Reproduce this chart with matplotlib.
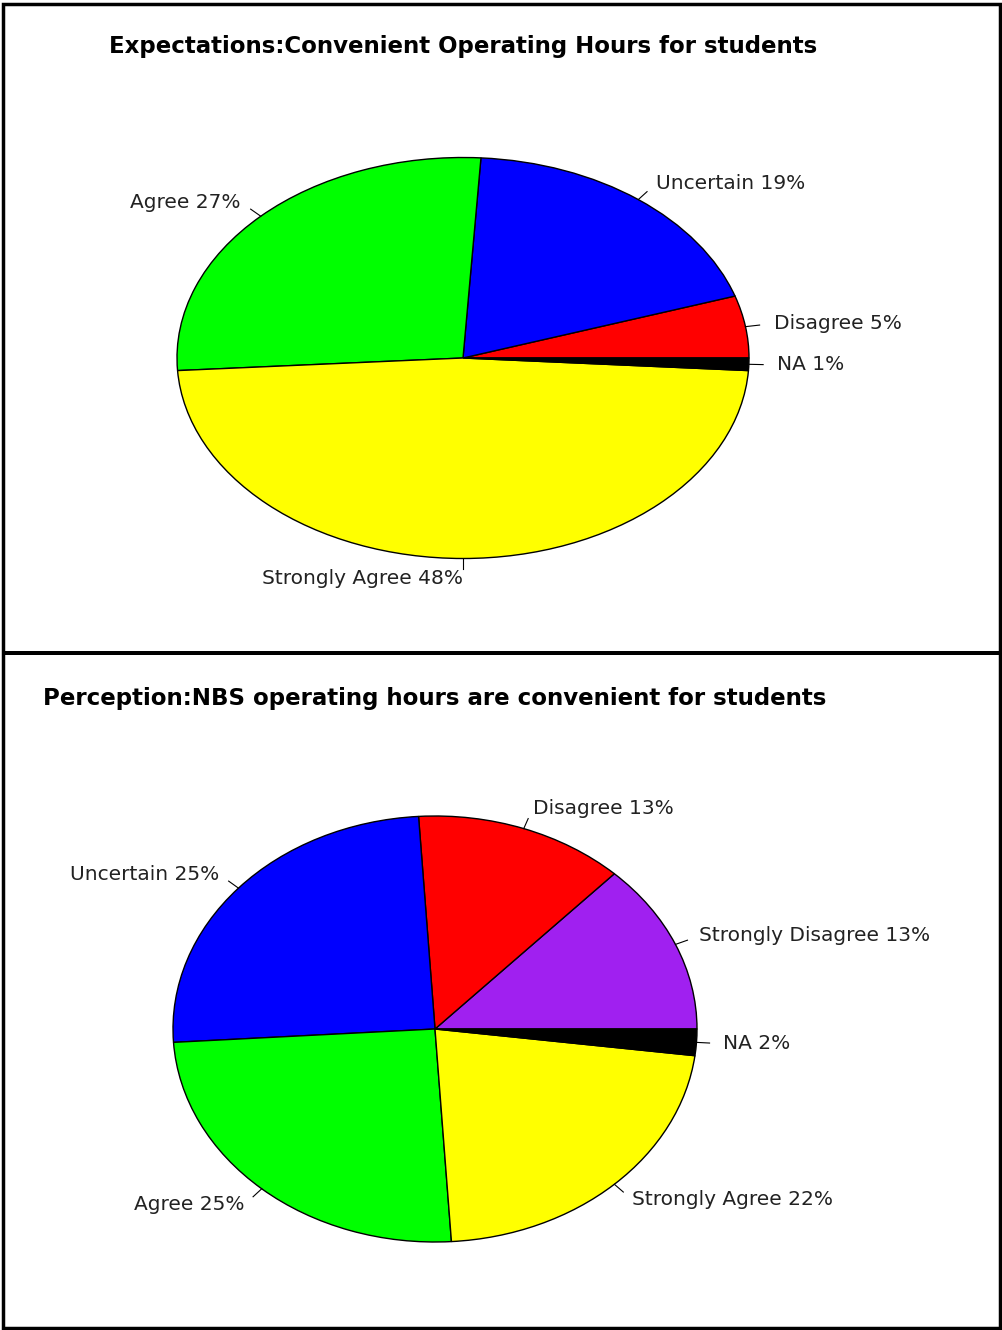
import numpy as np
import matplotlib.pyplot as plt
from matplotlib.patches import Rectangle

plt.rcParams['font.family'] = ['DejaVu Sans']

# survey answers, in drawing order (counter-clockwise from 3 o'clock)
exp_labels = ["Disagree", "Uncertain", "Agree", "Strongly Agree", "NA"]
exp_pct = [5, 19, 27, 48, 1]
exp_colors = ["#FF0000", "#0000FF", "#00FF00", "#FFFF00", "#000000"]

per_labels = ["Strongly Disagree", "Disagree", "Uncertain", "Agree",
              "Strongly Agree", "NA"]
per_pct = [13, 13, 25, 25, 22, 2]
per_colors = ["#A020F0", "#FF0000", "#0000FF", "#00FF00", "#FFFF00", "#000000"]

W, H = 1003, 1330
fig = plt.figure(figsize=(W / 100, H / 100), dpi=100)


def px_axes(cx, cy, rx, ry):
    # axes whose -1..1 box is the pie's bounding ellipse, given in pixels
    return fig.add_axes([(cx - rx) / W, 1 - (cy + ry) / H, 2 * rx / W, 2 * ry / H])


def r_pie(ax, values, labels, colors, title, title_y):
    ax.pie(values, colors=colors, startangle=0, counterclock=True,
           radius=1, wedgeprops=dict(edgecolor="black", linewidth=1))
    frac = np.cumsum(values) / np.sum(values)
    mids = 2 * np.pi * (frac - np.array(values) / np.sum(values) / 2)
    for mid, lab, v in zip(mids, labels, values):
        c, s = np.cos(mid), np.sin(mid)
        ax.plot([c, 1.05 * c], [s, 1.05 * s], color="black", lw=0.8, clip_on=False)
        ax.text(1.1 * c, 1.1 * s, f"{lab} {v}%", ha="left" if c > 0 else "right",
                va="center", fontsize=14.5, color="#222222")
    ax.set_xlim(-1, 1)
    ax.set_ylim(-1, 1)
    ax.set_aspect("auto")
    ax.axis("off")
    pos = ax.get_position()
    fig.text(pos.x0 + pos.width / 2, 1 - title_y / H, title, ha="center",
             va="center", fontsize=16.5, fontweight="bold")


ax1 = px_axes(463, 358, 286, 200.5)
r_pie(ax1, exp_pct, exp_labels, exp_colors,
      "Expectations:Convenient Operating Hours for students", 47)

ax2 = px_axes(435, 1029, 262, 213)
r_pie(ax2, per_pct, per_labels, per_colors,
      "Perception:NBS operating hours are convenient for students", 699)

# panel frames
fig.patches.append(Rectangle((3.5 / W, 1 - 1327.5 / H), 997 / W, 1324 / H,
                             transform=fig.transFigure, fill=False,
                             edgecolor="black", lw=2.5))
fig.patches.append(Rectangle((3 / W, 1 - 655 / H), 998 / W, 4.5 / H,
                             transform=fig.transFigure, facecolor="black",
                             edgecolor="none"))

fig.savefig("out.png", dpi=100, facecolor="white")
